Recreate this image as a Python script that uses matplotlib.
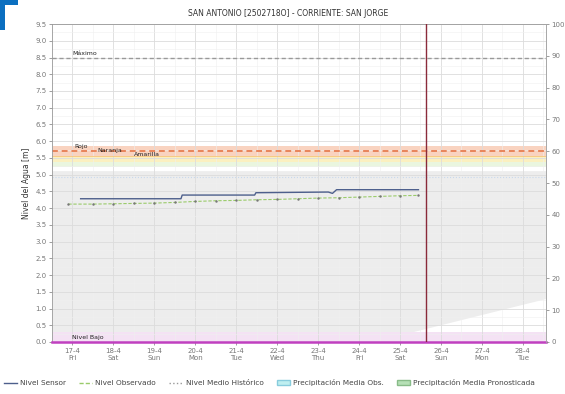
import numpy as np
import matplotlib
matplotlib.use('Agg')
import matplotlib.pyplot as plt
import matplotlib.patches as mpt
import matplotlib.lines as mli

# ── data ──────────────────────────────────────────────────────────────────────
DAY_LABELS = ["17-4\nFri", "18-4\nSat", "19-4\nSun", "20-4\nMon", "21-4\nTue", "22-4\nWed",
              "23-4\nThu", "24-4\nFri", "25-4\nSat", "26-4\nSun", "27-4\nMon", "28-4\nTue"]
DAY_POS = list(range(12))                    # days since 17-4

# Nivel Sensor (step like)
SENS_T = [0.2, 2.65, 2.68, 4.45, 4.48, 6.25, 6.35, 6.45, 8.45]
SENS_V = [4.28, 4.28, 4.39, 4.39, 4.46, 4.48, 4.44, 4.55, 4.55]

# Nivel Observado
OBS_T = [-0.1, 0.5, 1.0, 1.5, 2.0, 2.5, 3.0, 3.5, 4.0, 4.5, 5.0, 5.5, 6.0, 6.5, 7.0, 7.5, 8.0, 8.45]
OBS_V = [4.12, 4.12, 4.13, 4.14, 4.15, 4.17, 4.20, 4.22, 4.23, 4.25, 4.26, 4.28, 4.30, 4.31, 4.33, 4.35, 4.37, 4.38]

# historic envelope
HIST_T = [-0.49, 7.3, 11.56]
HIST_LO = [0.0, 0.0, 1.3]
HIST_HI = [5.12, 5.12, 5.12]
HIST_MEAN = 4.93

MAXIMO = 8.5
ROJO = 5.7
NIVEL_BAJO = 0.0
NOW = 8.63

# ── canvas ────────────────────────────────────────────────────────────────────
fig = plt.figure(figsize=(5.65, 3.94), dpi=100, facecolor='white')
ax = fig.add_axes([0.092, 0.132, 0.874, 0.807])
ax.set_xlim(-0.49, 11.56)
ax.set_ylim(0, 9.5)

# grid
ax.set_yticks(np.arange(0, 9.51, 0.5))
ax.set_yticklabels([f"{v:.1f}" for v in np.arange(0, 9.51, 0.5)], fontsize=5, color='#555')
ax.set_xticks(DAY_POS)
ax.set_xticklabels(DAY_LABELS, fontsize=5, color='#555')
ax.grid(True, color='#dcdcdc', lw=0.6)
ax.set_xticks(np.arange(-0.5, 11.6, 0.5), minor=True)
ax.set_yticks(np.arange(0, 9.5, 0.25), minor=True)
ax.grid(True, which='minor', color='#f0f0f0', lw=0.4)
ax.tick_params(length=2, width=0.5, pad=2, colors='#777')
ax.tick_params(which='minor', length=0)
for s in ax.spines.values():
    s.set_color('#999'); s.set_linewidth(0.6)
ax.set_ylabel('Nivel del Agua [m]', fontsize=5.5, color='#333', labelpad=3)

# historic band
ax.fill_between(HIST_T, HIST_LO, HIST_HI, color='#ededed', lw=0, zorder=0.5)
ax.axhline(HIST_MEAN, color='#c8d8ec', lw=0.8, ls=':', zorder=1)

# alert bands
ax.axhspan(5.55, 5.85, color='#f9d3c0', lw=0, zorder=0.6)
ax.axhspan(5.38, 5.55, color='#fbf0c0', lw=0, zorder=0.6)
ax.axhspan(5.22, 5.38, color='#eaf6df', lw=0, zorder=0.6)
ax.axhline(ROJO, color='#e8845a', lw=1.4, ls=(0, (3, 2)), zorder=2)
ax.axhline(5.55, color='#f6c47a', lw=0.6, zorder=2)
ax.text(0.05, 5.78, 'Rojo', fontsize=4.5, color='#222', va='bottom')
ax.text(0.6, 5.66, 'Naranja', fontsize=4.5, color='#222', va='bottom')
ax.text(1.5, 5.52, 'Amarilla', fontsize=4.5, color='#222', va='bottom')

# maximo
ax.axhline(MAXIMO, color='#999', lw=1.0, ls=(0, (3, 2)), zorder=2)
ax.text(0.0, MAXIMO + 0.05, 'Máximo', fontsize=4.5, color='#222', va='bottom')

# nivel bajo
ax.axhspan(0, 0.3, color='#f4e2f4', lw=0, zorder=0.7)
ax.axhline(NIVEL_BAJO, color='#c040c0', lw=1.8, zorder=3, clip_on=False)
ax.text(0.0, 0.05, 'Nivel Bajo', fontsize=4.5, color='#222', va='bottom')

# series
ax.plot(OBS_T, OBS_V, color='#9acb6a', lw=0.8, ls=(0, (3, 1.5)), marker='.', ms=1.5,
        mfc='#777', mec='#777', zorder=4)
ax.plot(SENS_T, SENS_V, color='#4d5f8c', lw=1.0, zorder=5)

# now
ax.axvline(NOW, color='#8a2a3a', lw=1.0, zorder=6)

# right axis (precipitation)
ax2 = ax.twinx()
ax2.set_ylim(0, 100)
ax2.set_yticks(np.arange(0, 101, 10))
ax2.set_yticklabels([str(v) for v in range(0, 101, 10)], fontsize=5, color='#555')
ax2.tick_params(length=2, width=0.5, pad=2, colors='#777')
for s in ax2.spines.values():
    s.set_visible(False)
ax2.spines['right'].set_visible(True)
ax2.spines['right'].set_color('#aaa')
ax2.spines['right'].set_linestyle((0, (2, 1)))
ax2.spines['right'].set_linewidth(0.6)

# title
fig.text(0.51, 0.967, 'SAN ANTONIO [2502718O] - CORRIENTE: SAN JORGE',
         ha='center', va='center', fontsize=5.5, color='#333')

# logo mark
fig.patches.append(mpt.Rectangle((0, 0.924), 0.009, 0.076, transform=fig.transFigure,
                                 color='#0b6fc0', lw=0))
fig.patches.append(mpt.Rectangle((0, 0.987), 0.032, 0.013, transform=fig.transFigure,
                                 color='#0b6fc0', lw=0))

# legend
handles = [
    mli.Line2D([0], [0], color='#4d5f8c', lw=1.0, label='Nivel Sensor'),
    mli.Line2D([0], [0], color='#9acb6a', lw=1.0, ls=(0, (3, 1.5)), label='Nivel Observado'),
    mli.Line2D([0], [0], color='#999', lw=1.0, ls=':', label='Nivel Medio Histórico'),
    mpt.Patch(facecolor='#bfeff0', edgecolor='#8cd', label='Precipitación Media Obs.'),
    mpt.Patch(facecolor='#b6e0b6', edgecolor='#8b8', label='Precipitación Media Pronosticada'),
]
fig.legend(handles=handles, loc='center left', bbox_to_anchor=(-0.005, 0.028), ncol=5,
           frameon=False, fontsize=5.3, handlelength=1.8, handletextpad=0.4,
           columnspacing=1.8, labelcolor='#444')

plt.savefig('out.png', dpi=100, facecolor='white')
